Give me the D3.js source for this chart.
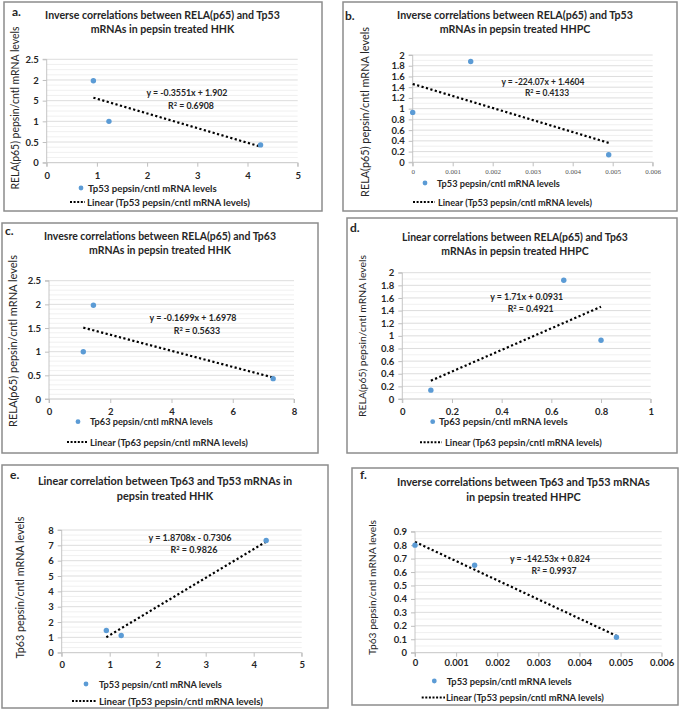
<!DOCTYPE html>
<html><head><meta charset="utf-8">
<script src="https://cdn.jsdelivr.net/npm/d3@7"></script>
<style>
body{margin:0;background:#fff;}
svg{display:block;font-family:Lato,"Open Sans",sans-serif;}
</style></head>
<body><svg id="c" width="681" height="710"></svg>
<script>
// ---- data ----
const tp53HHK  = [0.93, 1.24, 4.26];
const relaHHK  = [1.98, 1.00, 0.43];
const tp63HHK  = [1.45, 1.12, 7.32];
const tp53HHPC = [0, 0.00145, 0.0049];
const relaHHPC = [0.93, 1.88, 0.14];
const tp63HHPC = [0.80, 0.65, 0.115];

const slopes     = [-0.3551, -224.07, -0.1699, 1.71, 1.8708, -142.53];
const intercepts = [1.902, 1.4604, 1.6978, 0.0931, -0.7306, 0.824];
const equations  = ["y = -0.3551x + 1.902","y = -224.07x + 1.4604","y = -0.1699x + 1.6978","y = 1.71x + 0.0931","y = 1.8708x - 0.7306","y = -142.53x + 0.824"];
const rSquared   = ["0.6908","0.4133","0.5633","0.4921","0.9826","0.9937"];

const panelLetters = ["a.","b.","c.","d.","e.","f."];
const titles = [
 ["Inverse correlations between RELA(p65) and Tp53","mRNAs in pepsin treated HHK"],
 ["Inverse correlations between RELA(p65) and Tp53","mRNAs in pepsin treated HHPC"],
 ["Invesre correlations between RELA(p65) and Tp63","mRNAs in pepsin treated HHK"],
 ["Linear correlations between RELA(p65) and Tp63","mRNAs in pepsin treated HHPC"],
 ["Linear correlation between Tp63 and Tp53 mRNAs in","pepsin treated HHK"],
 ["Inverse correlations between Tp63 and Tp53 mRNAs","in pepsin treated HHPC"]
];
const yTitles = ["RELA(p65) pepsin/cntl mRNA levels","RELA(p65) pepsin/cntl mRNA levels","RELA(p65) pepsin/cntl mRNA levels","RELA(p65) pepsin/cntl mRNA levels","Tp63 pepsin/cntl mRNA levels","Tp63 pepsin/cntl mRNA levels"];
const seriesNames = ["Tp53 pepsin/cntl mRNA levels","Tp53 pepsin/cntl mRNA levels","Tp63 pepsin/cntl mRNA levels","Tp63 pepsin/cntl mRNA levels","Tp53 pepsin/cntl mRNA levels","Tp53 pepsin/cntl mRNA levels"];

const xTicksA = [0,1,2,3,4,5];            const xTickLabelsA = ["0","1","2","3","4","5"];
const yTicksA = [0,0.5,1,1.5,2,2.5];      const yTickLabelsA = ["0","0.5","1","5","2","2.5"];
const xTicksB = [0,0.001,0.002,0.003,0.004,0.005,0.006]; const xTickLabelsB = ["0","0.001","0.002","0.003","0.004","0.005","0.006"];
const yTicksB = [0,0.2,0.4,0.6,0.8,1,1.2,1.4,1.6,1.8,2]; const yTickLabelsB = ["0","0.2","0.4","0.6","0.8","1","1.2","1.4","1.6","1.8","2"];
const xTicksC = [0,2,4,6,8];              const xTickLabelsC = ["0","2","4","6","8"];
const yTicksC = [0,0.5,1,1.5,2,2.5];      const yTickLabelsC = ["0","0.5","1","1.5","2","2.5"];
const xTicksD = [0,0.2,0.4,0.6,0.8,1];    const xTickLabelsD = ["0","0.2","0.4","0.6","0.8","1"];
const yTicksD = yTicksB;                  const yTickLabelsD = yTickLabelsB;
const xTicksE = [0,1,2,3,4,5];            const xTickLabelsE = ["0","1","2","3","4","5"];
const yTicksE = [0,1,2,3,4,5,6,7,8];      const yTickLabelsE = ["0","1","2","3","4","5","6","7","8"];
const xTicksF = xTicksB;                  const xTickLabelsF = xTickLabelsB;
const yTicksF = [0,0.1,0.2,0.3,0.4,0.5,0.6,0.7,0.8,0.9]; const yTickLabelsF = ["0","0.1","0.2","0.3","0.4","0.5","0.6","0.7","0.8","0.9"];

const xData = [tp53HHK, tp53HHPC, tp63HHK, tp63HHPC, tp53HHK, tp53HHPC];
const yData = [relaHHK, relaHHPC, relaHHK, relaHHPC, tp63HHK, tp63HHPC];
const xTicks = [xTicksA,xTicksB,xTicksC,xTicksD,xTicksE,xTicksF];
const xTickLabels = [xTickLabelsA,xTickLabelsB,xTickLabelsC,xTickLabelsD,xTickLabelsE,xTickLabelsF];
const yTicks = [yTicksA,yTicksB,yTicksC,yTicksD,yTicksE,yTicksF];
const yTickLabels = [yTickLabelsA,yTickLabelsB,yTickLabelsC,yTickLabelsD,yTickLabelsE,yTickLabelsF];

// ---- layout ----
const layout = [
 {box:[4,2,322,211], px:[46.7,297.7], py:[162.7,59.3], minor:4, title:[162.5,15,29,235], letter:[12,12], ylab:[15,108,163], eq:[187,93,106,81], leg:[81,188,88,70,85,202,87,129,163], xlabDy:14, tickFont:"bold"},
 {box:[343,2,677,211], px:[412.7,652.7], py:[162.3,55], minor:2, title:[515,15,29,236], letter:[345,16], ylab:[365,112,170], eq:[543,82,92.5,83], leg:[425,183,437,413,435,202,438,123,154], xlabDy:11, tickFont:"serif"},
 {box:[2,223,318,453], px:[49,294], py:[399,280.7], minor:5, title:[160,236,250,232], letter:[5,231], ylab:[13,341,172], eq:[193,317.7,330.7,87], leg:[78,421.7,90,67,87,442,90,123,158], xlabDy:13, tickFont:"bold"},
 {box:[347,218,677,453], px:[402.3,650.7], py:[399,272.7], minor:2, title:[515,237,251,226], letter:[350,228], ylab:[361.7,336,162], eq:[526.7,296.7,309,73], leg:[432.7,421.7,439,420,442,442.3,445,129,157], xlabDy:13, tickFont:"bold"},
 {box:[2,465,328,708], px:[61.7,301.7], py:[652.7,530], minor:3, title:[165,480.7,496,254], letter:[10,475], ylab:[20,587.5,142], eq:[190,538.3,550,83], leg:[86,684,99,72,96,701,99,123,164], xlabDy:13, tickFont:"bold"},
 {box:[352,468,678,705], px:[415,661.7], py:[652.7,531.7], minor:2, title:[523.5,481.7,496.7,253], letter:[360,475], ylab:[371.7,587.5,135], eq:[550,559.3,570.7,80], leg:[434.3,681,446.7,421.7,445,697.5,446,125,158], xlabDy:11, tickFont:"bold"}
];

const svg = d3.select("#c");
const textCol = "#262626";

function fitText(sel, target){
  const w = sel.node().getComputedTextLength();
  const fs = parseFloat(sel.attr("font-size"));
  sel.attr("font-size", (fs*target/w).toFixed(2));
  return fs*target/w;
}

layout.forEach((L,i)=>{
  const g = svg.append("g");
  const [bx0,by0,bx1,by1] = L.box;
  g.append("rect").attr("x",bx0).attr("y",by0).attr("width",bx1-bx0).attr("height",by1-by0)
    .attr("fill","#fff").attr("stroke","#8c8c8c").attr("stroke-width",1.5);

  const xt = xTicks[i], yt = yTicks[i];
  const x = d3.scaleLinear().domain([xt[0], xt[xt.length-1]]).range(L.px);
  const y = d3.scaleLinear().domain([yt[0], yt[yt.length-1]]).range(L.py);

  // minor gridlines
  const minorVals = [];
  for(let k=0;k<yt.length-1;k++){
    for(let m=1;m<L.minor;m++) minorVals.push(yt[k]+(yt[k+1]-yt[k])*m/L.minor);
  }
  g.selectAll(null).data(minorVals).enter().append("line")
    .attr("x1",L.px[0]).attr("x2",L.px[1]).attr("y1",d=>y(d)).attr("y2",d=>y(d))
    .attr("stroke","#ececec").attr("stroke-width",0.8);
  // major gridlines
  g.selectAll(null).data(yt.slice(1)).enter().append("line")
    .attr("x1",L.px[0]).attr("x2",L.px[1]).attr("y1",d=>y(d)).attr("y2",d=>y(d))
    .attr("stroke","#d9d9d9").attr("stroke-width",0.9);

  // axes
  const isSerif = L.tickFont==="serif";
  const xAxis = d3.axisBottom(x).tickValues(xt).tickFormat((d,j)=>xTickLabels[i][j]).tickSize(4).tickPadding(L.xlabDy-8);
  const yAxis = d3.axisLeft(y).tickValues(yt).tickFormat((d,j)=>yTickLabels[i][j]).tickSize(4).tickPadding(4);
  const gx = g.append("g").attr("transform",`translate(0,${L.py[0]})`).call(xAxis);
  const gy = g.append("g").attr("transform",`translate(${L.px[0]},0)`).call(yAxis);
  [gx,gy].forEach(a=>{
    a.select(".domain").attr("stroke","#bfbfbf").attr("stroke-width",0.9);
    a.selectAll(".tick line").attr("stroke","#bfbfbf");
    a.selectAll(".tick text").attr("fill",textCol)
      .attr("font-family","Lato,sans-serif").attr("font-weight","bold").attr("font-size",9.5);
  });
  gx.select(".domain").attr("d",`M${L.px[0]},4V0H${L.px[1]}V4`);
  gy.select(".domain").attr("d",`M-4,${L.py[0]}H0V${L.py[1]}H-4`);
  if(isSerif){
    gx.selectAll(".tick text").attr("font-family","'Liberation Serif',serif").attr("font-weight","normal")
      .attr("font-size",7).attr("fill","#555");
  }

  // trend line
  const xs = xData[i];
  const xmin = d3.min(xs), xmax = d3.max(xs);
  const tl = [xmin, xmax].map(v=>[v, slopes[i]*v+intercepts[i]]);
  g.append("path").attr("d", d3.line().x(d=>x(d[0])).y(d=>y(d[1]))(tl))
    .attr("fill","none").attr("stroke","#000").attr("stroke-width",2.2)
    .attr("stroke-dasharray","2.2,2.4");

  // points
  g.selectAll(null).data(xs.map((v,j)=>[v,yData[i][j]])).enter().append("circle")
    .attr("cx",d=>x(d[0])).attr("cy",d=>y(d[1])).attr("r",2.7).attr("fill","#5b9bd5");

  // equation
  const eq = g.append("text").attr("x",L.eq[0]).attr("y",L.eq[1]+3).attr("text-anchor","middle")
    .attr("font-weight","bold").attr("font-size",9).attr("fill",textCol).text(equations[i]);
  const efs = fitText(eq, L.eq[3]);
  const r = g.append("text").attr("x",L.eq[0]+4).attr("y",L.eq[2]+3).attr("text-anchor","middle")
    .attr("font-weight","bold").attr("font-size",efs).attr("fill",textCol);
  r.append("tspan").text("R");
  r.append("tspan").attr("font-size",efs*0.65).attr("dy",-3).text("2");
  r.append("tspan").attr("dy",3).text(" = "+rSquared[i]);

  // titles
  const t1 = g.append("text").attr("x",L.title[0]).attr("y",L.title[1]+4).attr("text-anchor","middle")
    .attr("font-weight","bold").attr("font-size",11).attr("fill",textCol).text(titles[i][0]);
  fitText(t1, L.title[3]);
  g.append("text").attr("x",L.title[0]).attr("y",L.title[2]+4).attr("text-anchor","middle")
    .attr("font-weight","bold").attr("font-size",t1.attr("font-size")).attr("fill",textCol).text(titles[i][1]);

  // panel letter
  g.append("text").attr("x",L.letter[0]).attr("y",L.letter[1]+4).attr("font-weight","bold")
    .attr("font-size",12).attr("fill",textCol).text(panelLetters[i]);

  // y axis title
  const yl = g.append("text").attr("transform",`translate(${L.ylab[0]+4},${L.ylab[1]}) rotate(-90)`)
    .attr("text-anchor","middle").attr("font-size",10.5).attr("fill",textCol).text(yTitles[i]);
  fitText(yl, L.ylab[2]);

  // legend
  const [mx,my,t1x,lx0,lx1,ly,t2x,w1,w2] = L.leg;
  g.append("circle").attr("cx",mx).attr("cy",my).attr("r",2.4).attr("fill","#5b9bd5");
  const lt1 = g.append("text").attr("x",t1x).attr("y",my+3.5).attr("font-weight","bold").attr("font-size",9.5)
    .attr("fill",textCol).text(seriesNames[i]);
  fitText(lt1, w1);
  g.append("line").attr("x1",lx0).attr("x2",lx1).attr("y1",ly).attr("y2",ly)
    .attr("stroke","#000").attr("stroke-width",2).attr("stroke-dasharray","2,1.6");
  const lt2 = g.append("text").attr("x",t2x).attr("y",ly+3.5).attr("font-weight","bold").attr("font-size",9.5)
    .attr("fill",textCol).text("Linear ("+seriesNames[i]+")");
  fitText(lt2, w2);
});
</script></body></html>
